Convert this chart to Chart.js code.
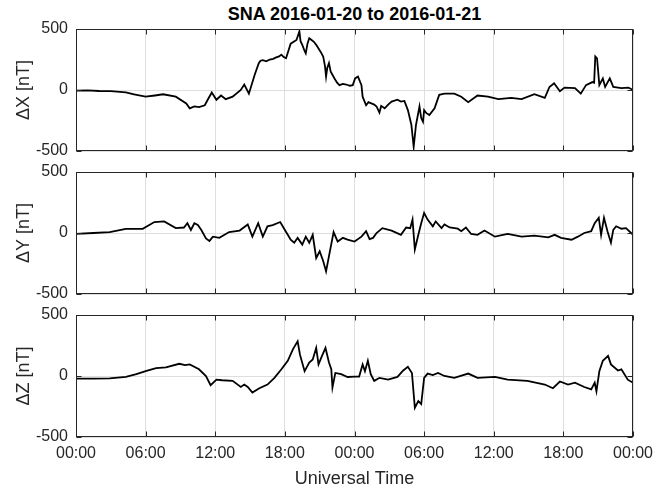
<!DOCTYPE html>
<html><head><meta charset="utf-8">
<script src="https://cdn.jsdelivr.net/npm/chart.js@4"></script>
<style>
html,body{margin:0;padding:0;background:#fff;overflow:hidden;width:671px;height:488px;position:relative;}
canvas{position:absolute;left:0;}
#title{position:absolute;left:76px;width:557px;top:4px;text-align:center;font:bold 18px "Liberation Sans",Arial,sans-serif;color:#000;white-space:nowrap;}
</style></head><body>
<div id="title">SNA 2016-01-20 to 2016-01-21</div>
<canvas id="c1" width="671" height="160" style="top:0px"></canvas>
<canvas id="c2" width="671" height="145" style="top:160px"></canvas>
<canvas id="c3" width="671" height="190" style="top:305px"></canvas>
<script>
// ---- data (hours since 2016-01-20 00:00 UT, nT) ----
const tickLabels = ['00:00','06:00','12:00','18:00','00:00','06:00','12:00','18:00','00:00'];
const yLabels = ['\u0394X [nT]','\u0394Y [nT]','\u0394Z [nT]'];
const xTitle = 'Universal Time';

const dxHours = [0,1,2,3,4.3,5,6,6.8,7.5,8.6,9.5,9.8,10.2,10.6,11.1,11.35,11.7,12.1,12.5,12.9,13.5,14.2,14.5,14.9,15.4,15.75,15.9,16.1,16.4,16.7,17.0,17.2,17.5,17.7,17.9,18.1,18.3,18.5,19.0,19.25,19.35,19.5,19.7,19.8,19.95,20.1,20.3,20.5,20.7,20.9,21.1,21.3,21.45,21.55,21.65,21.8,21.95,22.1,22.3,22.5,22.7,23.0,23.3,23.6,23.85,24.05,24.3,24.6,24.7,25.0,25.2,25.45,25.7,25.9,26.15,26.3,26.6,26.9,27.2,27.7,28.0,28.3,28.6,28.9,29.1,29.3,29.6,29.75,29.9,30.0,30.2,30.45,30.9,31.3,31.75,32.6,33.2,33.8,34.6,35.5,36.4,37.5,38.4,39.5,40.4,40.8,41.2,41.7,42.1,43.0,43.5,43.95,44.5,44.65,44.75,44.9,45.1,45.4,45.6,46.0,46.3,47.0,47.6,48];
const dxValues = [-5,-3,-8,-10,-20,-35,-55,-45,-35,-55,-110,-150,-135,-140,-125,-80,-20,-80,-45,-75,-55,0,45,-30,125,220,240,245,235,250,255,265,275,290,270,260,320,380,410,480,400,370,320,300,380,425,410,395,370,340,310,275,200,110,180,220,150,125,90,60,40,50,45,35,40,95,110,40,-55,-125,-100,-110,-120,-135,-185,-130,-150,-120,-95,-80,-95,-90,-165,-285,-465,-285,-135,-230,-260,-165,-190,-205,-150,-40,-30,-30,-55,-100,-45,-55,-75,-65,-75,-35,-65,25,55,-10,20,15,-30,40,65,60,275,260,40,95,25,95,25,15,20,0];

const dyHours = [0,1.5,2.9,4.3,5.75,6.75,7.6,8.6,9.3,9.6,9.9,10.2,10.5,10.8,11.2,11.5,11.8,12.35,13.2,14.1,14.8,15.2,15.7,16.1,16.5,16.95,17.6,18.0,18.25,18.5,18.8,19.1,19.5,19.8,20.1,20.4,20.7,21.0,21.3,21.55,21.85,22.2,22.55,23.0,23.4,24.0,24.6,25.0,25.3,25.6,25.9,26.4,27.2,28.0,28.45,28.8,29.0,29.2,29.5,29.75,30.0,30.3,30.75,31.0,31.5,31.75,32.2,32.9,33.2,33.6,34.05,34.6,35.2,36.1,37.2,38.4,39.5,40.7,41.25,41.8,42.7,43.25,43.8,44.4,44.7,45.05,45.25,45.5,45.8,46.1,46.3,46.55,47.0,47.4,48];
const dyValues = [-8,0,8,33,35,90,95,40,45,80,25,80,65,25,-45,-65,-30,-40,8,20,70,-30,80,-30,55,65,90,25,-15,-55,-80,-40,-95,-30,-80,-15,-205,-150,-230,-315,-165,8,-70,-40,-55,-70,-30,15,-50,-40,0,40,20,-15,45,40,110,-135,-15,80,165,110,55,95,40,70,45,35,15,45,-8,-15,20,-30,-8,-30,-22,-35,-15,-40,-55,-30,0,15,80,125,-15,125,15,-80,25,55,35,40,-15];

const dzHours = [0,1.5,2.9,4.3,5.2,6.0,6.9,7.75,8.9,9.4,9.8,10.6,11.2,11.6,12.1,12.6,13.5,14.2,14.5,14.8,15.2,15.8,16.5,17.1,17.7,18.25,18.7,19.1,19.3,19.7,20.1,20.4,20.7,20.9,21.2,21.5,21.8,22.0,22.1,22.35,22.85,23.4,24.0,24.4,24.7,24.9,25.15,25.4,25.7,26.15,26.9,27.7,28.2,28.6,28.95,29.2,29.5,29.75,30.0,30.3,30.75,31.2,31.75,32.6,33.8,34.6,36.1,37.2,38.9,40.4,41.1,41.7,42.4,43.0,43.8,44.4,44.7,44.85,45.1,45.4,45.85,46.1,46.7,47.0,47.55,48];
const dzValues = [-22,-22,-20,-8,15,40,65,70,100,90,95,55,0,-75,-30,-35,-40,-90,-70,-90,-135,-100,-70,-15,55,125,220,285,175,40,110,135,230,95,165,230,110,55,-95,25,15,-8,-5,-5,95,40,125,15,-40,-15,-30,-8,45,75,25,-260,-205,-230,-15,20,8,25,0,-15,20,-15,-8,-30,-40,-70,-100,-45,-70,-55,-90,-110,-55,-125,40,125,165,95,45,55,-30,-55];

const FONT = '"Liberation Sans", Arial, sans-serif';
const AX = '#262626';

const boxPlugin = {
  id: 'box',
  afterDatasetsDraw(chart) {
    const {ctx, chartArea: a, scales} = chart;
    ctx.save();
    ctx.strokeStyle = AX;
    ctx.lineWidth = 1;
    const L = Math.round(a.left) + 0.5, R = Math.round(a.right) - 0.5;
    const T = Math.round(a.top) + 0.5, B = Math.round(a.bottom) - 0.5;
    ctx.strokeRect(L, T, R - L, B - T);
    ctx.beginPath();
    const tl = 5;
    scales.x.ticks.forEach(t => {
      const px = Math.round(scales.x.getPixelForValue(t.value)) + 0.5;
      ctx.moveTo(px, B); ctx.lineTo(px, B - tl);
      ctx.moveTo(px, T); ctx.lineTo(px, T + tl);
    });
    scales.y.ticks.forEach(t => {
      const py = Math.round(scales.y.getPixelForValue(t.value)) + 0.5;
      ctx.moveTo(L, py); ctx.lineTo(L + tl, py);
      ctx.moveTo(R, py); ctx.lineTo(R - tl, py);
    });
    ctx.stroke();
    ctx.restore();
  }
};

function makePanel(id, hours, values, yLabel, padTop, xHeight, showX) {
  const pts = hours.map((h, i) => ({x: h, y: values[i]}));
  return new Chart(document.getElementById(id), {
    type: 'line',
    data: {datasets: [{data: pts, borderColor: '#000', borderWidth: 1.8, pointRadius: 0, tension: 0, fill: false}]},
    options: {
      responsive: false, animation: false,
      layout: {padding: {top: padTop, right: 38, left: 0, bottom: 0}},
      plugins: {legend: {display: false}, tooltip: {enabled: false}},
      scales: {
        x: {
          type: 'linear', min: 0, max: 48,
          afterBuildTicks: s => { s.ticks = tickLabels.map((_, i) => ({value: i * 6})); },
          afterFit: s => { s.height = xHeight; s.paddingLeft = 0; s.paddingRight = 0; },
          grid: {color: '#dedede', lineWidth: 1, drawTicks: false},
          border: {display: false},
          ticks: {display: showX, padding: 7, color: AX, font: {family: FONT, size: 16},
                  maxRotation: 0, autoSkip: false,
                  callback: (v, i) => tickLabels[i]},
          title: {display: showX, text: xTitle, color: AX, font: {family: FONT, size: 18}, padding: {top: 0, bottom: 5}}
        },
        y: {
          min: -500, max: 500,
          afterBuildTicks: s => { s.ticks = [-500, 0, 500].map(v => ({value: v})); },
          afterFit: s => { s.width = 76; s.paddingTop = 0; s.paddingBottom = 0; },
          grid: {color: '#dedede', lineWidth: 1, drawTicks: false},
          border: {display: false},
          ticks: {padding: 8, color: AX, font: {family: FONT, size: 16}},
          title: {display: true, text: yLabel, color: AX, font: {family: FONT, size: 18}, padding: {top: 13, bottom: 0}}
        }
      }
    },
    plugins: [boxPlugin]
  });
}

makePanel('c1', dxHours, dxValues, yLabels[0], 29, 9, false);
makePanel('c2', dyHours, dyValues, yLabels[1], 12, 11, false);
makePanel('c3', dzHours, dzValues, yLabels[2], 10, 58, true);
</script>
</body></html>
